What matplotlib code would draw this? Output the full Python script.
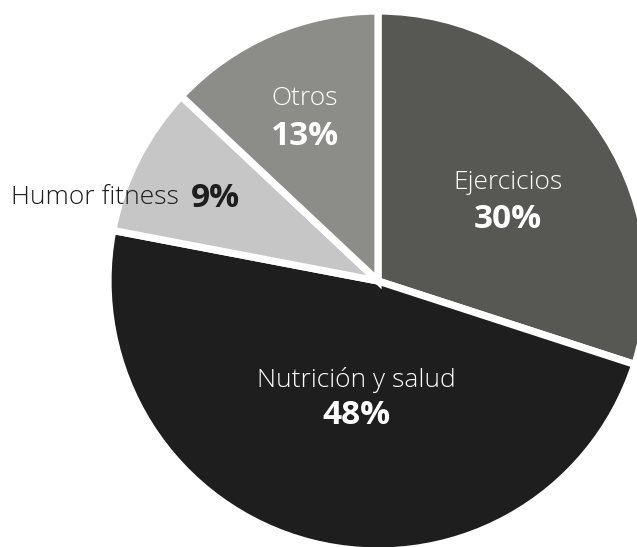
import matplotlib.pyplot as plt

categorias = ["Ejercicios", "Nutrición y salud", "Humor fitness", "Otros"]
porcentajes = [30, 48, 9, 13]
colores = ["#575753", "#1e1e1e", "#c6c6c6", "#8c8c88"]

W, H, DPI = 637, 547, 100
CX, CY, R = 378, 281, 270  # centro y radio del pastel en pixeles


def px(x, y):
    return (x - CX) / R, (CY - y) / R


fig = plt.figure(figsize=(W / DPI, H / DPI), dpi=DPI)
ax = fig.add_axes([0, 0, 1, 1])
ax.pie(porcentajes, colors=colores, startangle=90, counterclock=False,
       radius=1, wedgeprops=dict(edgecolor="white", linewidth=5.2))
ax.set_aspect("auto")
ax.set_xlim(-CX / R, (W - CX) / R)
ax.set_ylim(-(H - CY) / R, CY / R)
ax.axis("off")

fam = "Open Sans"
ligera = dict(family=fam, weight="light", fontsize=19, ha="center", va="center")
negrita = dict(family=fam, weight="bold", fontsize=24, ha="center", va="center")

# etiquetas dentro de las porciones
pos = {"Ejercicios": (508, 182, 219), "Nutrición y salud": (356, 380, 416),
       "Otros": (305, 98, 136)}
for cat, val in zip(categorias, porcentajes):
    if cat not in pos:
        continue
    x, y1, y2 = pos[cat]
    ax.text(*px(x, y1), cat, color="white", **ligera)
    ax.text(*px(x, y2), f"{val}%", color="white", **negrita)

# Humor fitness va fuera del pastel
i = categorias.index("Humor fitness")
ax.text(*px(179, 197), categorias[i], color="#1e1e1e",
        **{**ligera, "ha": "right"})
ax.text(*px(191, 198), f"{porcentajes[i]}%", color="#1e1e1e",
        **{**negrita, "ha": "left"})

fig.savefig("out.png", dpi=DPI)
